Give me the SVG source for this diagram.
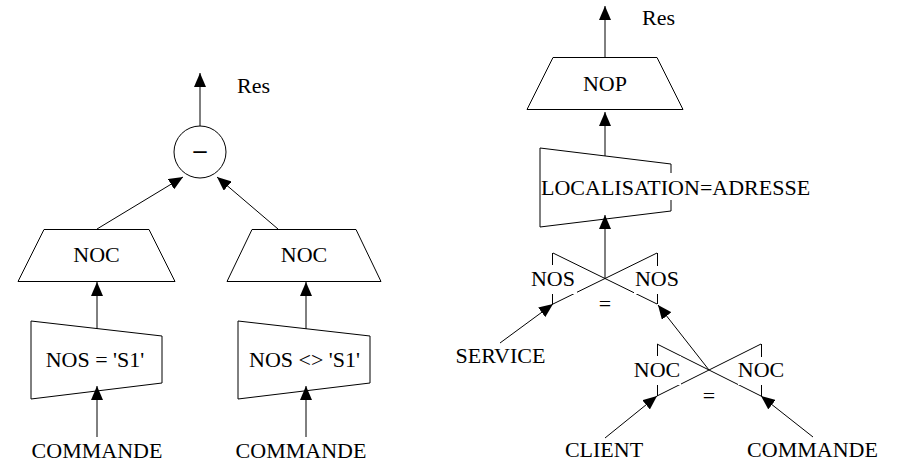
<svg xmlns="http://www.w3.org/2000/svg" width="901" height="464" viewBox="0 0 901 464">
<defs>
<marker id="ah" markerUnits="userSpaceOnUse" markerWidth="14" markerHeight="12" refX="14" refY="6" orient="auto" viewBox="0 0 14 12"><path d="M0,0 L14,6 L0,12 z" fill="#000"/></marker>
</defs>
<style>
text{font-family:"Liberation Serif","Times New Roman",serif;font-size:22px;fill:#000;text-anchor:middle}
.st{text-anchor:start}
.shape{fill:#fff;stroke:#000;stroke-width:1}
.line{stroke:#000;stroke-width:1;fill:none}
.edge{stroke:#000;stroke-width:1;fill:none;marker-end:url(#ah)}
.mask{fill:#fff}
</style>
<rect x="0" y="0" width="901" height="464" fill="#fff"/>

<g id="minus">
<circle class="shape" cx="200" cy="152" r="26"/>
<text x="200" y="158" style="font-size:26px;font-weight:bold">–</text>
</g>
<g id="res-left"><text class="st" x="237" y="93">Res</text></g>
<g id="noc-left">
<polygon class="shape" points="44,229.5 149,229.5 175,281.5 18,281.5"/>
<text x="96.5" y="262">NOC</text>
</g>
<g id="noc-right">
<polygon class="shape" points="252,229.5 356,229.5 381,281.5 227,281.5"/>
<text x="304" y="262">NOC</text>
</g>
<g id="sel-left">
<polygon class="shape" points="31,321 162,336 162,383 31,399"/>
<text x="95" y="367">NOS = 'S1'</text>
</g>
<g id="sel-right">
<polygon class="shape" points="238,321 370,336 370,383 238,399"/>
<text x="304.5" y="367">NOS &lt;&gt; 'S1'</text>
</g>
<g id="cmd-left"><text x="97" y="458">COMMANDE</text></g>
<g id="cmd-right"><text x="301" y="458">COMMANDE</text></g>

<g id="res-right"><text class="st" x="642" y="25">Res</text></g>
<g id="nop">
<polygon class="shape" points="553,57.5 657,57.5 683,109.5 527,109.5"/>
<text x="605" y="91">NOP</text>
</g>
<g id="sel-loc">
<polygon class="shape" points="540,148 671,164 671,211 540,227"/>
<rect class="mask" x="545" y="173" width="276" height="27"/>
<text class="st" x="541" y="195">LOCALISATION=ADRESSE</text>
</g>
<g id="join1">
<path class="line" d="M553,253 L657,304 M657,253 L553,304 M552.5,253 V304 M657.5,253 V304"/>
<rect class="mask" x="529" y="265" width="48" height="29"/>
<rect class="mask" x="634" y="266" width="47" height="28"/>
<text x="553" y="286">NOS</text>
<text x="657" y="286">NOS</text>
<text x="605" y="311">=</text>
</g>
<g id="join2">
<path class="line" d="M657,344 L761,396 M761,344 L657,396 M657.5,344 V396 M761.5,344 V396"/>
<rect class="mask" x="633" y="356" width="48" height="29"/>
<rect class="mask" x="738" y="357" width="47" height="28"/>
<text x="657" y="377">NOC</text>
<text x="761" y="377">NOC</text>
<text x="709" y="403">=</text>
</g>
<g id="service"><text x="500.5" y="363">SERVICE</text></g>
<g id="client"><text x="604" y="457">CLIENT</text></g>
<g id="commande"><text x="812.5" y="457">COMMANDE</text></g>

<g id="connectors">
<path class="edge" d="M200,126 V73"/>
<path class="edge" d="M97,229 L183,177"/>
<path class="edge" d="M278,229 L217,177"/>
<path class="edge" d="M97,329 V282"/>
<path class="edge" d="M306,329 V282"/>
<path class="edge" d="M97,437 V386"/>
<path class="edge" d="M306,437 V386"/>
<path class="edge" d="M605,57 V6"/>
<path class="edge" d="M605,156 V112"/>
<path class="edge" d="M605,279 V215"/>
<path class="edge" d="M709,370 L658,305"/>
<path class="edge" d="M500,343 L553,304"/>
<path class="edge" d="M605,438 L657,396"/>
<path class="edge" d="M813,437 L761,396"/>
</g>
</svg>
